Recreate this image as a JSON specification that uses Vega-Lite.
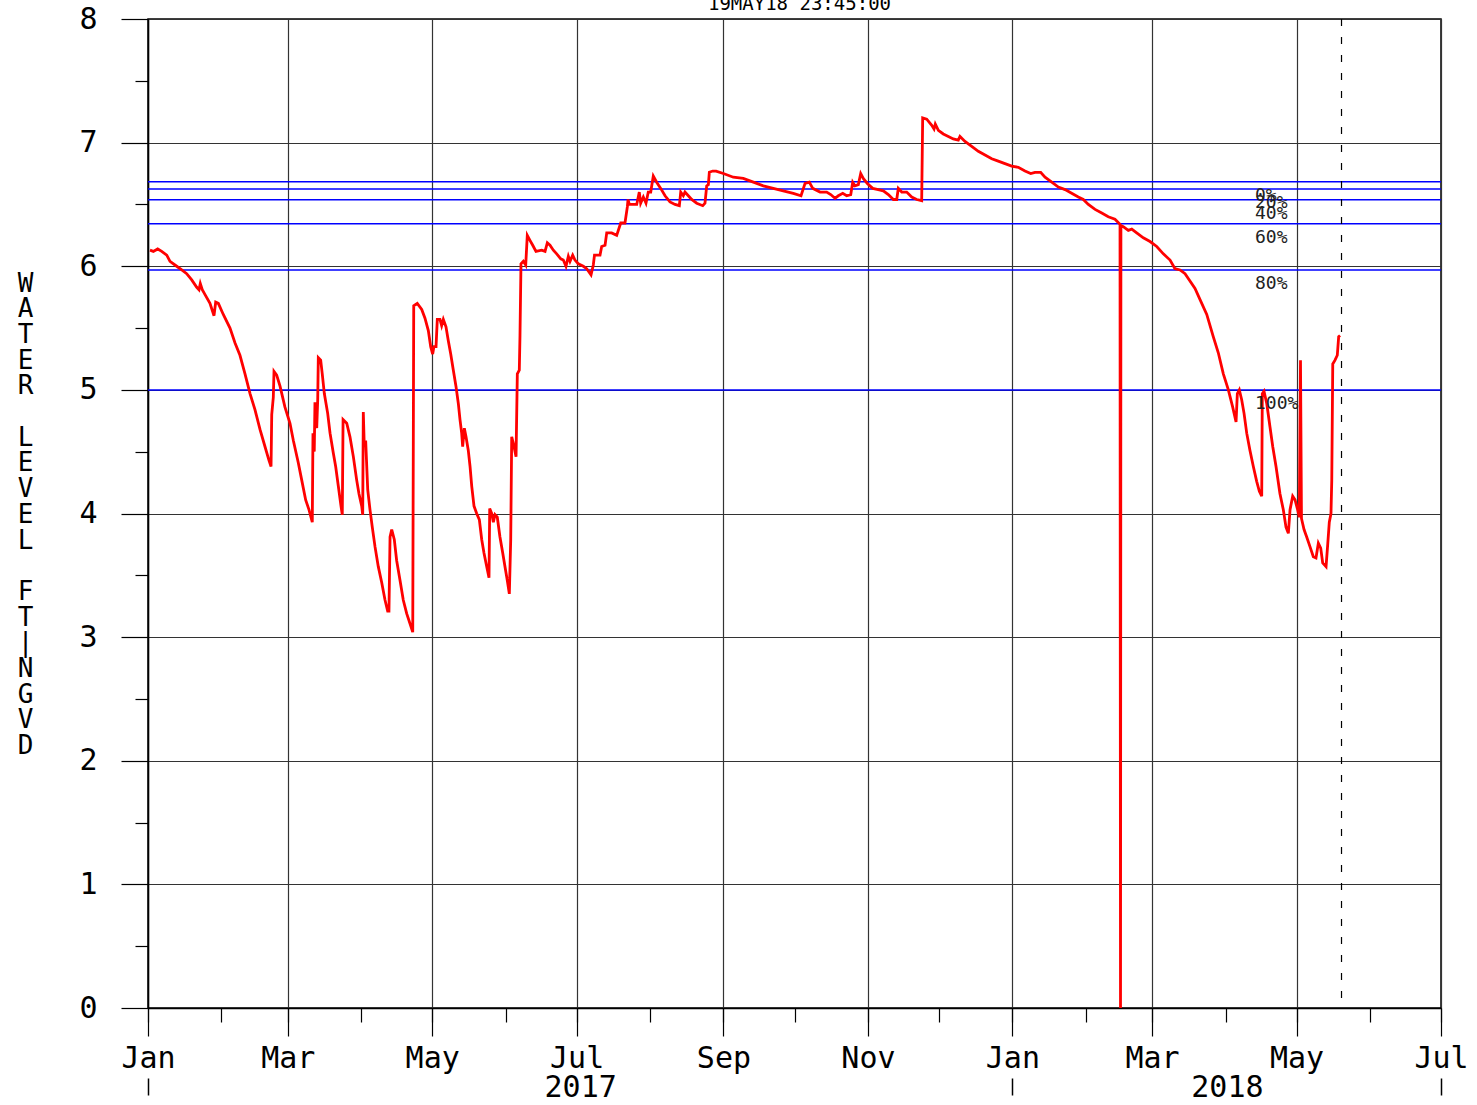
{
"$schema": "https://vega.github.io/schema/vega-lite/v6.json",
"width": 1293, "height": 989,
"autosize": {"type": "none"},
"padding": {"left": 148, "top": 19, "right": 36, "bottom": 97},
"background": "white",
"config": {"view": {"stroke": "#000", "strokeWidth": 1.5}, "font": "DejaVu Sans Mono"},
"title": {"text": "19MAY18  23:45:00", "anchor": "middle", "fontSize": 19, "font": "DejaVu Sans Mono", "fontWeight": "normal", "color": "#000", "baseline": "alphabetic", "offset": 0, "dy": 25, "dx": 5},
"datasets": {
"zones": [
{"pct": "0%", "level": 6.684},
{"pct": "20%", "level": 6.625},
{"pct": "40%", "level": 6.537},
{"pct": "60%", "level": 6.343},
{"pct": "80%", "level": 5.97},
{"pct": "100%", "level": 5.0}
],
"marker": [{"date": "2018-05-19T23:45", "label": "19MAY18 23:45:00"}],
"series": [
{"date":"2017-01-01T20:00","level":6.13},{"date":"2017-01-03T06:00","level":6.12},{"date":"2017-01-05T02:00","level":6.14},{"date":"2017-01-06T19:00","level":6.12},{"date":"2017-01-08T22:00","level":6.09},{"date":"2017-01-10T07:00","level":6.04},{"date":"2017-01-13T03:00","level":6.00},{"date":"2017-01-15T06:00","level":5.97},{"date":"2017-01-17T08:00","level":5.94},{"date":"2017-01-19T11:00","level":5.89},{"date":"2017-01-21T14:00","level":5.83},{"date":"2017-01-22T13:00","level":5.81},{"date":"2017-01-23T02:00","level":5.86},{"date":"2017-01-23T22:00","level":5.81},{"date":"2017-01-25T02:00","level":5.77},{"date":"2017-01-27T04:00","level":5.70},{"date":"2017-01-28T21:00","level":5.60},{"date":"2017-01-29T14:00","level":5.71},{"date":"2017-01-30T17:00","level":5.70},
{"date":"2017-02-01T19:00","level":5.61},{"date":"2017-02-04T15:00","level":5.50},{"date":"2017-02-06T18:00","level":5.38},{"date":"2017-02-08T20:00","level":5.28},{"date":"2017-02-10T23:00","level":5.13},{"date":"2017-02-13T02:00","level":4.97},{"date":"2017-02-15T04:00","level":4.84},{"date":"2017-02-17T07:00","level":4.68},{"date":"2017-02-19T10:00","level":4.54},{"date":"2017-02-21T02:00","level":4.43},{"date":"2017-02-21T23:00","level":4.38},{"date":"2017-02-22T06:00","level":4.80},{"date":"2017-02-22T22:00","level":4.94},{"date":"2017-02-23T05:00","level":5.15},{"date":"2017-02-24T08:00","level":5.12},{"date":"2017-02-25T18:00","level":5.03},{"date":"2017-02-27T20:00","level":4.86},
{"date":"2017-03-01T23:00","level":4.73},{"date":"2017-03-03T09:00","level":4.59},{"date":"2017-03-05T11:00","level":4.41},{"date":"2017-03-06T22:00","level":4.27},{"date":"2017-03-08T14:00","level":4.11},{"date":"2017-03-10T00:00","level":4.03},{"date":"2017-03-11T09:00","level":3.93},{"date":"2017-03-11T16:00","level":4.65},{"date":"2017-03-12T05:00","level":4.50},{"date":"2017-03-12T12:00","level":4.90},{"date":"2017-03-13T06:00","level":4.69},{"date":"2017-03-13T16:00","level":4.92},{"date":"2017-03-13T22:00","level":5.26},{"date":"2017-03-14T22:00","level":5.24},{"date":"2017-03-15T14:00","level":5.13},{"date":"2017-03-16T11:00","level":4.97},{"date":"2017-03-17T21:00","level":4.81},{"date":"2017-03-18T21:00","level":4.65},{"date":"2017-03-20T06:00","level":4.49},{"date":"2017-03-21T06:00","level":4.38},{"date":"2017-03-22T09:00","level":4.22},{"date":"2017-03-23T12:00","level":4.06},{"date":"2017-03-24T01:00","level":3.99},{"date":"2017-03-24T09:00","level":4.76},{"date":"2017-03-25T22:00","level":4.73},{"date":"2017-03-27T07:00","level":4.62},{"date":"2017-03-28T17:00","level":4.46},{"date":"2017-03-30T03:00","level":4.27},{"date":"2017-03-31T02:00","level":4.16},
{"date":"2017-04-01T06:00","level":4.06},{"date":"2017-04-01T16:00","level":3.99},{"date":"2017-04-01T22:00","level":4.82},{"date":"2017-04-02T08:00","level":4.54},{"date":"2017-04-02T22:00","level":4.59},{"date":"2017-04-03T19:00","level":4.19},{"date":"2017-04-04T18:00","level":4.03},{"date":"2017-04-05T17:00","level":3.89},{"date":"2017-04-06T21:00","level":3.73},{"date":"2017-04-08T06:00","level":3.57},{"date":"2017-04-09T17:00","level":3.44},{"date":"2017-04-11T02:00","level":3.30},{"date":"2017-04-12T05:00","level":3.21},{"date":"2017-04-12T18:00","level":3.21},{"date":"2017-04-13T05:00","level":3.81},{"date":"2017-04-13T22:00","level":3.87},{"date":"2017-04-15T00:00","level":3.79},{"date":"2017-04-16T00:00","level":3.62},{"date":"2017-04-17T10:00","level":3.46},{"date":"2017-04-18T19:00","level":3.30},{"date":"2017-04-20T06:00","level":3.19},{"date":"2017-04-21T15:00","level":3.11},{"date":"2017-04-22T19:00","level":3.04},{"date":"2017-04-23T05:00","level":5.68},{"date":"2017-04-24T17:00","level":5.70},{"date":"2017-04-26T14:00","level":5.65},{"date":"2017-04-27T23:00","level":5.58},{"date":"2017-04-29T09:00","level":5.48},{"date":"2017-04-30T09:00","level":5.35},
{"date":"2017-05-01T05:00","level":5.29},{"date":"2017-05-01T18:00","level":5.35},{"date":"2017-05-02T15:00","level":5.35},{"date":"2017-05-03T04:00","level":5.57},{"date":"2017-05-04T07:00","level":5.57},{"date":"2017-05-05T00:00","level":5.52},{"date":"2017-05-05T17:00","level":5.57},{"date":"2017-05-06T20:00","level":5.51},{"date":"2017-05-07T19:00","level":5.40},{"date":"2017-05-08T20:00","level":5.29},{"date":"2017-05-09T22:00","level":5.16},{"date":"2017-05-11T01:00","level":5.03},{"date":"2017-05-12T01:00","level":4.89},{"date":"2017-05-12T18:00","level":4.76},{"date":"2017-05-13T11:00","level":4.65},{"date":"2017-05-13T21:00","level":4.54},{"date":"2017-05-14T14:00","level":4.69},{"date":"2017-05-15T07:00","level":4.62},{"date":"2017-05-16T06:00","level":4.51},{"date":"2017-05-17T00:00","level":4.38},{"date":"2017-05-17T17:00","level":4.22},{"date":"2017-05-18T16:00","level":4.06},{"date":"2017-05-19T19:00","level":4.00},{"date":"2017-05-20T22:00","level":3.95},{"date":"2017-05-21T22:00","level":3.79},{"date":"2017-05-22T21:00","level":3.68},{"date":"2017-05-24T01:00","level":3.57},{"date":"2017-05-25T00:00","level":3.48},{"date":"2017-05-25T07:00","level":4.04},{"date":"2017-05-26T03:00","level":4.00},{"date":"2017-05-26T20:00","level":3.93},{"date":"2017-05-27T13:00","level":3.99},{"date":"2017-05-28T12:00","level":3.97},{"date":"2017-05-29T15:00","level":3.81},{"date":"2017-05-30T19:00","level":3.68},{"date":"2017-05-31T18:00","level":3.57},
{"date":"2017-06-01T17:00","level":3.46},{"date":"2017-06-02T14:00","level":3.35},{"date":"2017-06-03T04:00","level":3.79},{"date":"2017-06-03T14:00","level":4.62},{"date":"2017-06-04T06:00","level":4.57},{"date":"2017-06-05T10:00","level":4.46},{"date":"2017-06-05T23:00","level":5.13},{"date":"2017-06-06T19:00","level":5.16},{"date":"2017-06-07T02:00","level":5.44},{"date":"2017-06-07T12:00","level":6.02},{"date":"2017-06-08T12:00","level":6.04},{"date":"2017-06-09T12:00","level":6.01},{"date":"2017-06-10T04:00","level":6.25},{"date":"2017-06-11T07:00","level":6.21},{"date":"2017-06-12T11:00","level":6.17},{"date":"2017-06-13T20:00","level":6.12},{"date":"2017-06-16T06:00","level":6.13},{"date":"2017-06-17T16:00","level":6.12},{"date":"2017-06-18T15:00","level":6.19},{"date":"2017-06-19T18:00","level":6.17},{"date":"2017-06-21T04:00","level":6.13},{"date":"2017-06-22T14:00","level":6.10},{"date":"2017-06-24T07:00","level":6.06},{"date":"2017-06-25T09:00","level":6.05},{"date":"2017-06-26T12:00","level":6.00},{"date":"2017-06-27T12:00","level":6.08},{"date":"2017-06-28T05:00","level":6.04},{"date":"2017-06-29T08:00","level":6.09},{"date":"2017-06-30T07:00","level":6.05},
{"date":"2017-07-01T17:00","level":6.02},{"date":"2017-07-03T20:00","level":6.00},{"date":"2017-07-05T06:00","level":5.98},{"date":"2017-07-07T02:00","level":5.93},{"date":"2017-07-08T01:00","level":6.01},{"date":"2017-07-08T13:00","level":6.09},{"date":"2017-07-10T21:00","level":6.09},{"date":"2017-07-11T14:00","level":6.16},{"date":"2017-07-13T00:00","level":6.17},{"date":"2017-07-13T17:00","level":6.27},{"date":"2017-07-15T19:00","level":6.27},{"date":"2017-07-17T22:00","level":6.25},{"date":"2017-07-19T15:00","level":6.35},{"date":"2017-07-21T10:00","level":6.35},{"date":"2017-07-22T10:00","level":6.48},{"date":"2017-07-22T17:00","level":6.54},{"date":"2017-07-23T06:00","level":6.50},{"date":"2017-07-26T09:00","level":6.50},{"date":"2017-07-27T11:00","level":6.60},{"date":"2017-07-28T01:00","level":6.51},{"date":"2017-07-29T04:00","level":6.56},{"date":"2017-07-30T07:00","level":6.51},{"date":"2017-07-31T06:00","level":6.60},
{"date":"2017-08-01T07:00","level":6.60},{"date":"2017-08-02T09:00","level":6.73},{"date":"2017-08-03T19:00","level":6.68},{"date":"2017-08-05T12:00","level":6.63},{"date":"2017-08-07T08:00","level":6.57},{"date":"2017-08-09T10:00","level":6.52},{"date":"2017-08-11T13:00","level":6.50},{"date":"2017-08-13T09:00","level":6.49},{"date":"2017-08-13T23:00","level":6.60},{"date":"2017-08-15T01:00","level":6.57},{"date":"2017-08-15T18:00","level":6.60},{"date":"2017-08-17T04:00","level":6.57},{"date":"2017-08-18T14:00","level":6.54},{"date":"2017-08-20T17:00","level":6.51},{"date":"2017-08-23T06:00","level":6.49},{"date":"2017-08-24T05:00","level":6.51},{"date":"2017-08-24T22:00","level":6.65},{"date":"2017-08-25T15:00","level":6.66},{"date":"2017-08-26T01:00","level":6.76},{"date":"2017-08-27T11:00","level":6.77},{"date":"2017-08-28T21:00","level":6.77},{"date":"2017-08-31T23:00","level":6.75},
{"date":"2017-09-05T04:00","level":6.72},{"date":"2017-09-09T09:00","level":6.71},{"date":"2017-09-13T15:00","level":6.68},{"date":"2017-09-17T20:00","level":6.65},{"date":"2017-09-22T01:00","level":6.63},{"date":"2017-09-26T06:00","level":6.61},{"date":"2017-09-30T12:00","level":6.59},
{"date":"2017-10-03T18:00","level":6.57},{"date":"2017-10-05T11:00","level":6.67},{"date":"2017-10-07T06:00","level":6.68},{"date":"2017-10-08T17:00","level":6.63},{"date":"2017-10-11T19:00","level":6.60},{"date":"2017-10-14T14:00","level":6.60},{"date":"2017-10-16T07:00","level":6.58},{"date":"2017-10-18T03:00","level":6.55},{"date":"2017-10-19T12:00","level":6.57},{"date":"2017-10-21T09:00","level":6.59},{"date":"2017-10-23T01:00","level":6.57},{"date":"2017-10-24T18:00","level":6.58},{"date":"2017-10-25T14:00","level":6.68},{"date":"2017-10-26T13:00","level":6.65},{"date":"2017-10-27T23:00","level":6.66},{"date":"2017-10-28T23:00","level":6.75},{"date":"2017-10-30T01:00","level":6.71},{"date":"2017-10-31T18:00","level":6.67},
{"date":"2017-11-03T01:00","level":6.63},{"date":"2017-11-05T09:00","level":6.62},{"date":"2017-11-07T12:00","level":6.61},{"date":"2017-11-09T15:00","level":6.58},{"date":"2017-11-11T18:00","level":6.54},{"date":"2017-11-13T04:00","level":6.54},{"date":"2017-11-13T20:00","level":6.63},{"date":"2017-11-15T07:00","level":6.60},{"date":"2017-11-17T09:00","level":6.60},{"date":"2017-11-19T12:00","level":6.56},{"date":"2017-11-21T15:00","level":6.54},{"date":"2017-11-23T17:00","level":6.53},{"date":"2017-11-24T03:00","level":7.20},{"date":"2017-11-25T20:00","level":7.19},{"date":"2017-11-27T23:00","level":7.14},{"date":"2017-11-28T22:00","level":7.11},{"date":"2017-11-29T11:00","level":7.15},{"date":"2017-11-30T18:00","level":7.10},
{"date":"2017-12-02T20:00","level":7.07},{"date":"2017-12-04T23:00","level":7.05},{"date":"2017-12-07T01:00","level":7.03},{"date":"2017-12-09T04:00","level":7.02},{"date":"2017-12-09T21:00","level":7.05},{"date":"2017-12-12T00:00","level":7.01},{"date":"2017-12-14T20:00","level":6.97},{"date":"2017-12-17T15:00","level":6.93},{"date":"2017-12-20T11:00","level":6.90},{"date":"2017-12-23T07:00","level":6.87},{"date":"2017-12-26T01:00","level":6.85},{"date":"2017-12-28T21:00","level":6.83},{"date":"2017-12-31T17:00","level":6.81},
{"date":"2018-01-03T12:00","level":6.80},{"date":"2018-01-06T08:00","level":6.77},{"date":"2018-01-08T18:00","level":6.75},{"date":"2018-01-10T13:00","level":6.76},{"date":"2018-01-12T23:00","level":6.76},{"date":"2018-01-14T19:00","level":6.72},{"date":"2018-01-17T15:00","level":6.68},{"date":"2018-01-20T10:00","level":6.64},{"date":"2018-01-23T06:00","level":6.62},{"date":"2018-01-26T01:00","level":6.59},{"date":"2018-01-28T20:00","level":6.56},{"date":"2018-01-30T23:00","level":6.54},
{"date":"2018-02-02T02:00","level":6.50},{"date":"2018-02-04T22:00","level":6.46},{"date":"2018-02-07T18:00","level":6.43},{"date":"2018-02-10T12:00","level":6.40},{"date":"2018-02-13T08:00","level":6.38},{"date":"2018-02-15T11:00","level":6.34},{"date":"2018-02-15T16:00","level":0},{"date":"2018-02-15T20:00","level":6.33},{"date":"2018-02-16T20:00","level":6.32},{"date":"2018-02-18T23:00","level":6.29},{"date":"2018-02-20T10:00","level":6.30},{"date":"2018-02-22T12:00","level":6.27},{"date":"2018-02-25T07:00","level":6.23},{"date":"2018-02-28T03:00","level":6.20},
{"date":"2018-03-02T23:00","level":6.16},{"date":"2018-03-05T18:00","level":6.10},{"date":"2018-03-08T14:00","level":6.05},{"date":"2018-03-10T16:00","level":5.98},{"date":"2018-03-12T19:00","level":5.97},{"date":"2018-03-14T22:00","level":5.94},{"date":"2018-03-17T00:00","level":5.88},{"date":"2018-03-19T03:00","level":5.82},{"date":"2018-03-21T06:00","level":5.73},{"date":"2018-03-24T02:00","level":5.61},{"date":"2018-03-26T20:00","level":5.43},{"date":"2018-03-28T23:00","level":5.30},{"date":"2018-03-31T02:00","level":5.13},
{"date":"2018-04-02T05:00","level":5.00},{"date":"2018-04-04T01:00","level":4.86},{"date":"2018-04-05T11:00","level":4.74},{"date":"2018-04-06T00:00","level":4.97},{"date":"2018-04-06T20:00","level":5.00},{"date":"2018-04-07T20:00","level":4.92},{"date":"2018-04-08T20:00","level":4.81},{"date":"2018-04-09T23:00","level":4.65},{"date":"2018-04-11T08:00","level":4.51},{"date":"2018-04-12T18:00","level":4.38},{"date":"2018-04-14T04:00","level":4.26},{"date":"2018-04-15T07:00","level":4.18},{"date":"2018-04-16T07:00","level":4.14},{"date":"2018-04-16T13:00","level":4.97},{"date":"2018-04-17T06:00","level":4.99},{"date":"2018-04-18T10:00","level":4.89},{"date":"2018-04-19T19:00","level":4.70},{"date":"2018-04-20T23:00","level":4.54},{"date":"2018-04-22T08:00","level":4.38},{"date":"2018-04-24T00:00","level":4.16},{"date":"2018-04-25T10:00","level":4.03},{"date":"2018-04-26T13:00","level":3.89},{"date":"2018-04-27T13:00","level":3.84},{"date":"2018-04-28T06:00","level":4.03},{"date":"2018-04-29T09:00","level":4.14},{"date":"2018-04-30T09:00","level":4.11},
{"date":"2018-05-01T08:00","level":4.04},{"date":"2018-05-02T04:00","level":3.97},{"date":"2018-05-02T16:00","level":5.24},{"date":"2018-05-03T02:00","level":3.96},{"date":"2018-05-04T04:00","level":3.87},{"date":"2018-05-05T07:00","level":3.81},{"date":"2018-05-06T17:00","level":3.73},{"date":"2018-05-08T02:00","level":3.65},{"date":"2018-05-09T05:00","level":3.64},{"date":"2018-05-10T05:00","level":3.76},{"date":"2018-05-11T05:00","level":3.72},{"date":"2018-05-12T01:00","level":3.60},{"date":"2018-05-13T11:00","level":3.57},{"date":"2018-05-14T04:00","level":3.75},{"date":"2018-05-14T20:00","level":3.93},{"date":"2018-05-15T13:00","level":4.00},{"date":"2018-05-15T21:00","level":4.27},{"date":"2018-05-16T07:00","level":5.21},{"date":"2018-05-17T06:00","level":5.24},{"date":"2018-05-18T05:00","level":5.28},{"date":"2018-05-18T19:00","level":5.43},{"date":"2018-05-19T09:00","level":5.44}
],
"pctlabels": [
{"pct": "0%", "level": 6.684, "date": "2018-04-13T11:00"},
{"pct": "20%", "level": 6.625, "date": "2018-04-13T11:00"},
{"pct": "40%", "level": 6.537, "date": "2018-04-13T11:00"},
{"pct": "60%", "level": 6.343, "date": "2018-04-13T11:00"},
{"pct": "80%", "level": 5.97, "date": "2018-04-13T11:00"},
{"pct": "100%", "level": 5.0, "date": "2018-04-13T11:00"}
]
},
"layer": [
{
"data": {"name": "zones"},
"mark": {"type": "rule", "color": "#0000ff", "strokeWidth": 1.5},
"encoding": {"y": {"field": "level", "type": "quantitative", "scale": {"domain": [0, 8], "nice": false, "zero": false}, "axis": null}}
},
{
"data": {"name": "marker"},
"mark": {"type": "rule", "color": "#000", "strokeWidth": 1.2, "strokeDash": [7, 11]},
"encoding": {"x": {"field": "date", "type": "temporal",
"scale": {"domain": [{"year": 2017, "month": 1, "date": 1}, {"year": 2018, "month": 7, "date": 1}]},
"axis": {"orient": "bottom", "title": null, "labels": false, "grid": false, "domain": false, "tickSize": 14, "tickColor": "#000", "tickWidth": 1.2,
"values": [{"year":2017,"month":1,"date":1},{"year":2017,"month":2,"date":1},{"year":2017,"month":3,"date":1},{"year":2017,"month":4,"date":1},{"year":2017,"month":5,"date":1},{"year":2017,"month":6,"date":1},{"year":2017,"month":7,"date":1},{"year":2017,"month":8,"date":1},{"year":2017,"month":9,"date":1},{"year":2017,"month":10,"date":1},{"year":2017,"month":11,"date":1},{"year":2017,"month":12,"date":1},{"year":2018,"month":1,"date":1},{"year":2018,"month":2,"date":1},{"year":2018,"month":3,"date":1},{"year":2018,"month":4,"date":1},{"year":2018,"month":5,"date":1},{"year":2018,"month":6,"date":1},{"year":2018,"month":7,"date":1}]}}}
},
{
"data": {"name": "series"},
"mark": {"type": "line", "color": "#ff0000", "strokeWidth": 2.8},
"encoding": {
"x": {"field": "date", "type": "temporal",
"scale": {"domain": [{"year": 2017, "month": 1, "date": 1}, {"year": 2018, "month": 7, "date": 1}]},
"axis": {"orient": "bottom", "title": null, "format": "%b", "grid": true, "gridColor": "#333", "gridWidth": 1.2, "tickSize": 28, "tickColor": "#000", "tickWidth": 1.2, "domainColor": "#000", "domainWidth": 1.5,
"labelFont": "DejaVu Sans Mono", "labelFontSize": 30, "labelColor": "#000", "labelPadding": 7, "labelOverlap": false, "labelFlush": false, "labelBound": false,
"values": [{"year":2017,"month":1,"date":1},{"year":2017,"month":3,"date":1},{"year":2017,"month":5,"date":1},{"year":2017,"month":7,"date":1},{"year":2017,"month":9,"date":1},{"year":2017,"month":11,"date":1},{"year":2018,"month":1,"date":1},{"year":2018,"month":3,"date":1},{"year":2018,"month":5,"date":1},{"year":2018,"month":7,"date":1}]}},
"y": {"field": "level", "type": "quantitative", "scale": {"domain": [0, 8], "nice": false, "zero": false},
"axis": {"orient": "left", "values": [0,1,2,3,4,5,6,7,8], "tickSize": 27, "tickColor": "#000", "tickWidth": 1.2, "grid": true, "gridColor": "#333", "gridWidth": 1.2, "domainColor": "#000", "domainWidth": 1.5,
"labelFont": "DejaVu Sans Mono", "labelFontSize": 30, "labelColor": "#000", "labelPadding": 24,
"title": ["W","A","T","E","R","\u200b","L","E","V","E","L","\u200b","F","T","|","N","G","V","D"],
"titleAngle": 0, "titleX": -123, "titleY": 264, "titleAlign": "center", "titleBaseline": "middle",
"titleFont": "DejaVu Sans Mono", "titleFontSize": 26, "titleFontWeight": "normal", "titleLineHeight": 25.7, "titleColor": "#000"}}
}
},
{
"data": {"name": "pctlabels"},
"mark": {"type": "text", "align": "left", "baseline": "middle", "dy": 14, "fontSize": 18, "font": "DejaVu Sans Mono", "color": "#222"},
"encoding": {
"x": {"field": "date", "type": "temporal",
"scale": {"domain": [{"year": 2017, "month": 1, "date": 1}, {"year": 2018, "month": 7, "date": 1}]},
"axis": {"orient": "bottom", "title": null, "grid": false, "domain": false, "offset": 70, "tickSize": 17, "tickColor": "#000", "tickWidth": 1.5,
"tickOpacity": {"condition": {"test": "hours(datum.value) != 0", "value": 0}, "value": 1},
"labelExpr": "hours(datum.value) == 0 ? '' : timeFormat(datum.value, '%Y')",
"labelFont": "DejaVu Sans Mono", "labelFontSize": 30, "labelColor": "#000", "labelBaseline": "middle", "labelPadding": -8, "labelOverlap": false, "labelFlush": false, "labelBound": false,
"values": [{"year":2017,"month":1,"date":1},{"year":2017,"month":7,"date":2,"hours":12},{"year":2018,"month":1,"date":1},{"year":2018,"month":4,"date":1,"hours":14},{"year":2018,"month":7,"date":1}]}},
"y": {"field": "level", "type": "quantitative", "scale": {"domain": [0, 8], "nice": false, "zero": false},
"axis": {"orient": "left", "title": null, "labels": false, "grid": false, "domain": false, "tickSize": 13, "tickColor": "#000", "tickWidth": 1.2, "values": [0.5,1.5,2.5,3.5,4.5,5.5,6.5,7.5]}},
"text": {"field": "pct", "type": "nominal"}
}
}
],
"resolve": {"axis": {"x": "independent", "y": "independent"}}
}
